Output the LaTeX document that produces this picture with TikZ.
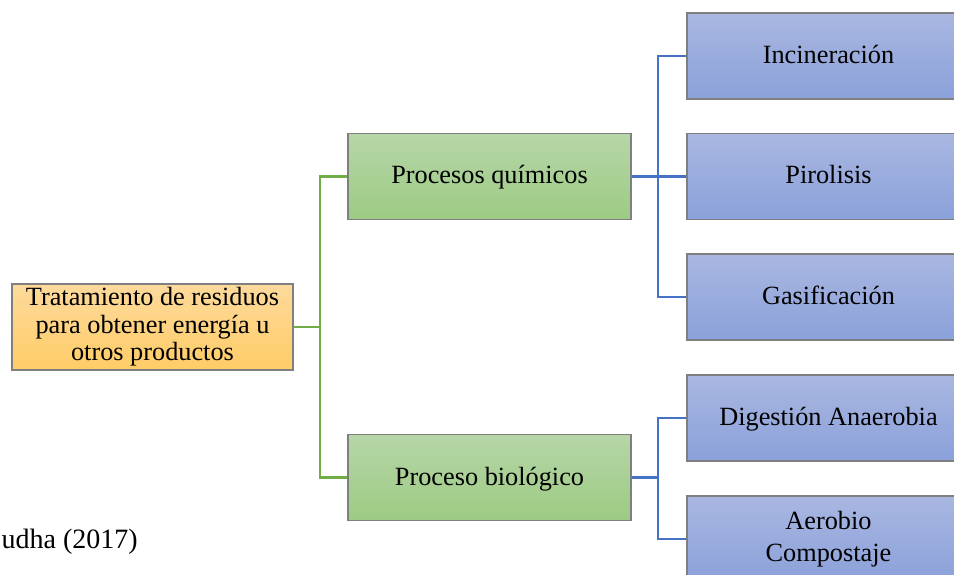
\documentclass[tikz,border=0pt]{standalone}
\usepackage{fontspec}
\setmainfont{Liberation Serif}
\begin{document}
\definecolor{orangetop}{HTML}{FDDA9C}
\definecolor{orangebot}{HTML}{FFCC66}
\definecolor{greentop}{HTML}{B6D6A8}
\definecolor{greenbot}{HTML}{9CCB82}
\definecolor{bluetop}{HTML}{A9B7E1}
\definecolor{bluebot}{HTML}{8BA1DA}
\definecolor{greenline}{HTML}{70AD47}
\definecolor{blueline}{HTML}{4472C4}
\definecolor{boxedge}{HTML}{7F7F7F}
\begin{tikzpicture}[x=1pt,y=-1pt,
  box/.style={rectangle, draw=boxedge, line width=1.2pt, minimum width=283pt,
    minimum height=86pt, inner sep=0pt, align=center,
    font=\fontsize{26.3}{27.5}\selectfont},
  oneline/.style={text height=19pt, text depth=4pt},
  rootbox/.style={box, minimum width=281pt, top color=orangetop, bottom color=orangebot},
  midbox/.style={box, oneline, top color=greentop, bottom color=greenbot},
  leafbox/.style={box, top color=bluetop, bottom color=bluebot},
  gline/.style={draw=greenline, line width=2.6pt},
  bline/.style={draw=blueline, line width=2.6pt}]
\useasboundingbox (0,0) rectangle (954,575);
\clip (0,0) rectangle (954,575);

% boxes
\node[rootbox] (root) at (152.5,327) {Tratamiento de residuos\\para obtener energía u\\otros productos};
\node[midbox] (chem) at (489.5,176.5) {Procesos químicos};
\node[midbox] (bio) at (489.5,477.5) {Proceso biológico};
\node[leafbox, oneline] (inc) at (828.5,56) {Incineración};
\node[leafbox, oneline] (pir) at (828.5,176.5) {Pirolisis};
\node[leafbox, oneline] (gas) at (828.5,297) {Gasificación};
\node[leafbox, oneline] (dig) at (828.5,418) {Digestión Anaerobia};
\node[leafbox, font=\fontsize{26.3}{32}\selectfont] (aer) at (828.5,539) {Aerobio\\Compostaje};

% junction points
\coordinate (gj) at (320,327);
\coordinate (bj1) at (658,176.5);
\coordinate (bj2) at (658,477.5);

% connectors: root to processes
\draw[gline] (root.east) -- (gj);
\draw[gline] (chem.west) -| (gj) |- (bio.west);

% connectors: chemical processes
\draw[bline] (chem.east) -- (pir.west);
\draw[bline] (inc.west) -| (bj1) |- (gas.west);

% connectors: biological process
\draw[bline] (bio.east) -- (bj2);
\draw[bline] (dig.west) -| (bj2) |- (aer.west);

% source line
\node[anchor=base east, inner sep=0pt, font=\fontsize{28}{30}\selectfont] (src) at (138,548) {udha (2017)};
\end{tikzpicture}
\end{document}
